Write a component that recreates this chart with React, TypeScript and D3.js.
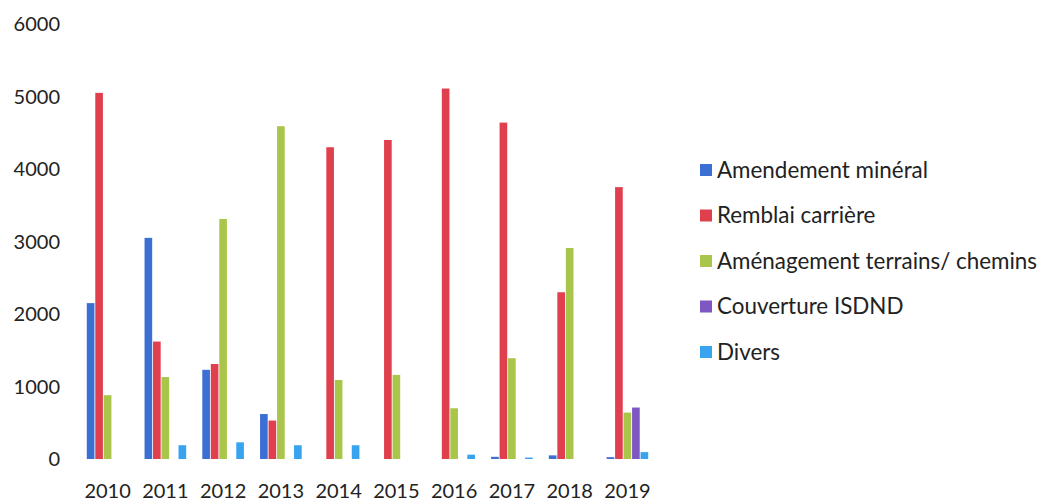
import React, { useRef, useEffect } from 'react';
import * as d3 from 'd3';

const years = ["2010", "2011", "2012", "2013", "2014", "2015", "2016", "2017", "2018", "2019"];
const seriesNames = [
  "Amendement minéral",
  "Remblai carrière",
  "Aménagement terrains/ chemins",
  "Couverture ISDND",
  "Divers",
];
const amendement = [2150, 3050, 1230, 620, 0, 0, 0, 30, 50, 25];
const remblai = [5050, 1620, 1310, 530, 4300, 4400, 5110, 4640, 2300, 3750];
const amenagement = [880, 1130, 3310, 4590, 1090, 1160, 700, 1390, 2910, 640];
const couverture = [0, 0, 0, 0, 0, 0, 0, 0, 0, 710];
const divers = [0, 190, 230, 190, 190, 0, 60, 20, 0, 95];
const yTicks = [0, 1000, 2000, 3000, 4000, 5000, 6000];
const colors = ["#3B6FD4", "#E0404E", "#A9C64A", "#7E57C2", "#38A4F0"];

const App: React.FC = () => {
  const svgRef = useRef<SVGSVGElement>(null);

  useEffect(() => {
    if (!svgRef.current) return;
    const svg = d3.select(svgRef.current);
    svg.selectAll("*").remove();

    const values = [amendement, remblai, amenagement, couverture, divers];
    const font = "Lato, 'Open Sans', sans-serif";

    const x0 = d3.scaleBand<string>()
      .domain(years)
      .range([79, 656])
      .paddingInner(0.25)
      .paddingOuter(0.12);

    const x1 = d3.scaleBand<number>()
      .domain(d3.range(seriesNames.length))
      .range([0, x0.bandwidth()])
      .padding(0.1);

    const y = d3.scaleLinear().domain([0, 6000]).range([459, 24]);

    const g = svg.append("g");

    // y labels
    g.selectAll(".ytick")
      .data(yTicks)
      .join("text")
      .attr("x", 60)
      .attr("y", (d) => y(d))
      .attr("dy", "0.35em")
      .attr("text-anchor", "end")
      .style("font-family", font)
      .style("font-size", "20px")
      .style("fill", "#222")
      .text((d) => String(d));

    // x labels
    g.selectAll(".xtick")
      .data(years)
      .join("text")
      .attr("x", (d) => (x0(d) as number) + x0.bandwidth() / 2)
      .attr("y", 491)
      .attr("dy", "0.35em")
      .attr("text-anchor", "middle")
      .style("font-family", font)
      .style("font-size", "20px")
      .style("fill", "#222")
      .text((d) => d);

    // bars
    years.forEach((yr, i) => {
      const grp = g.append("g").attr("transform", `translate(${x0(yr)},0)`);
      values.forEach((arr, s) => {
        const v = arr[i];
        if (v <= 0) return;
        grp.append("rect")
          .attr("x", x1(s) as number)
          .attr("y", y(v))
          .attr("width", x1.bandwidth())
          .attr("height", y(0) - y(v))
          .attr("fill", colors[s]);
      });
    });

    // legend
    const legend = g.append("g").attr("transform", "translate(700,170)");
    seriesNames.forEach((name, s) => {
      const row = legend.append("g").attr("transform", `translate(0,${s * 45.5})`);
      row.append("rect")
        .attr("x", 0).attr("y", -6)
        .attr("width", 12).attr("height", 12)
        .attr("fill", colors[s]);
      row.append("text")
        .attr("x", 17).attr("y", 0).attr("dy", "0.35em")
        .style("font-family", font)
        .style("font-size", "22.4px")
        .style("fill", "#222")
        .text(name);
    });
  }, []);

  return (
    <svg
      ref={svgRef}
      width={1063}
      height={504}
      style={{ position: 'absolute', left: 0, top: 0, background: '#fff' }}
    ></svg>
  );
};

export default App;
